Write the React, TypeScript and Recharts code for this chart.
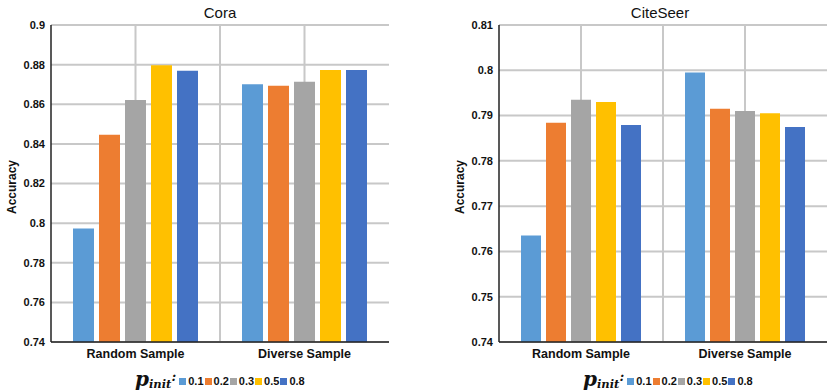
import React from "react";
import {
  BarChart,
  Bar,
  XAxis,
  YAxis,
  CartesianGrid,
} from "recharts";

const categories = ["Random Sample", "Diverse Sample"];
const pInitLabels = ["0.1", "0.2", "0.3", "0.5", "0.8"];
const seriesColors = ["#5B9BD5", "#ED7D31", "#A5A5A5", "#FFC000", "#4472C4"];

// Cora accuracy, one value per p_init
const coraRandom = [0.7973, 0.8446, 0.8622, 0.8797, 0.8769];
const coraDiverse = [0.8701, 0.8693, 0.8713, 0.8773, 0.8773];
const coraTicks = [0.74, 0.76, 0.78, 0.8, 0.82, 0.84, 0.86, 0.88, 0.9];

// CiteSeer accuracy
const citeseerRandom = [0.7635, 0.7884, 0.7935, 0.7930, 0.7879];
const citeseerDiverse = [0.7995, 0.7915, 0.7910, 0.7905, 0.7875];
const citeseerTicks = [0.74, 0.75, 0.76, 0.77, 0.78, 0.79, 0.8, 0.81];

const FONT = "'Liberation Sans', Arial, Helvetica, sans-serif";

const buildRows = (groups: number[][]) =>
  categories.map((category, i) => {
    const row: Record<string, string | number> = { category };
    pInitLabels.forEach((p, j) => {
      row[p] = groups[i][j];
    });
    return row;
  });

const coraData = buildRows([coraRandom, coraDiverse]);
const citeseerData = buildRows([citeseerRandom, citeseerDiverse]);

const fmt = (v: number) => String(parseFloat(v.toFixed(2)));

interface PanelProps {
  title: string;
  data: Record<string, string | number>[];
  ticks: number[];
  left: number;
  width: number;
  yAxisWidth: number;
  marginRight: number;
  barSize: number;
  titleX: number;
  labelX: number;
  legendX: number;
}

const Panel: React.FC<PanelProps> = ({
  title,
  data,
  ticks,
  left,
  width,
  yAxisWidth,
  marginRight,
  barSize,
  titleX,
  labelX,
  legendX,
}) => {
  const domain = [ticks[0], ticks[ticks.length - 1]];
  return (
    <>
      <div
        style={{
          position: "absolute",
          left: titleX,
          top: 4,
          transform: "translateX(-50%)",
          fontFamily: FONT,
          fontSize: 15,
          lineHeight: "17px",
          color: "#111",
          whiteSpace: "nowrap",
        }}
      >
        {title}
      </div>
      <div
        style={{
          position: "absolute",
          left: labelX,
          top: 187,
          transform: "translate(-50%, -50%) rotate(-90deg)",
          fontFamily: FONT,
          fontWeight: "bold",
          fontSize: 12,
          color: "#111",
          whiteSpace: "nowrap",
        }}
      >
        Accuracy
      </div>
      <div style={{ position: "absolute", left, top: 0 }}>
        <BarChart
          width={width}
          height={391}
          data={data}
          margin={{ top: 25, right: marginRight, left: 0, bottom: 0 }}
          barSize={barSize}
          barGap={5}
        >
          <CartesianGrid
            stroke="#c8c8c8"
            strokeWidth={2}
            verticalCoordinatesGenerator={({ offset }: any) => [
              offset.left + offset.width / 4,
              offset.left + offset.width / 2,
              offset.left + (offset.width * 3) / 4,
            ]}
          />
          <XAxis
            dataKey="category"
            height={49}
            axisLine={{ stroke: "#222", strokeWidth: 1.5 }}
            tickLine={false}
            tickSize={4}
            tickMargin={3}
            tick={{ fontFamily: FONT, fontSize: 12.5, fontWeight: "bold", fill: "#111" }}
          />
          <XAxis
            xAxisId="top"
            dataKey="category"
            orientation="top"
            height={0}
            tick={false}
            tickLine={false}
            axisLine={{ stroke: "#7a7a7a", strokeWidth: 2 }}
          />
          <YAxis
            width={yAxisWidth}
            domain={domain}
            ticks={ticks}
            interval={0}
            tickFormatter={fmt}
            axisLine={{ stroke: "#222", strokeWidth: 1.5 }}
            tickLine={false}
            tickSize={4}
            tickMargin={2}
            tick={{ fontFamily: FONT, fontSize: 11, fontWeight: "bold", fill: "#111" }}
          />
          <YAxis
            yAxisId="right"
            orientation="right"
            width={0}
            domain={domain}
            tick={false}
            tickLine={false}
            axisLine={{ stroke: "#7a7a7a", strokeWidth: 2 }}
          />
          {pInitLabels.map((p, i) => (
            <Bar
              key={p}
              dataKey={p}
              fill={seriesColors[i]}
              isAnimationActive={false}
            />
          ))}
        </BarChart>
      </div>
      <div
        style={{
          position: "absolute",
          left: legendX,
          top: 370,
          height: 22,
          display: "flex",
          alignItems: "center",
          whiteSpace: "nowrap",
        }}
      >
        <span
          style={{
            fontFamily: "'DejaVu Serif', serif",
            fontStyle: "italic",
            fontWeight: "bold",
            fontSize: 20,
            lineHeight: "18px",
            color: "#111",
            marginRight: 3,
            position: "relative",
            top: -1,
          }}
        >
          p
          <span style={{ fontSize: 11.5, position: "relative", top: 2 }}>init</span>
          <span style={{ fontSize: 13, position: "relative", top: -5 }}>:</span>
        </span>
        {pInitLabels.map((p, i) => (
          <span
            key={p}
            style={{ display: "flex", alignItems: "center", marginRight: 1 }}
          >
            <span
              style={{
                display: "inline-block",
                width: 7,
                height: 7,
                background: seriesColors[i],
                marginRight: 2,
              }}
            />
            <span
              style={{
                fontFamily: FONT,
                fontWeight: "bold",
                fontSize: 11,
                lineHeight: "12px",
                color: "#111",
              }}
            >
              {p}
            </span>
          </span>
        ))}
      </div>
    </>
  );
};

export default function App() {
  return (
    <div
      style={{
        position: "absolute",
        left: 0,
        top: 0,
        width: 829,
        height: 391,
        background: "#fff",
        overflow: "hidden",
      }}
    >
      <Panel
        title="Cora"
        data={coraData}
        ticks={coraTicks}
        left={0}
        width={400}
        yAxisWidth={51}
        marginRight={11}
        barSize={21}
        titleX={220}
        labelX={12}
        legendX={135}
      />
      <Panel
        title="CiteSeer"
        data={citeseerData}
        ticks={citeseerTicks}
        left={420}
        width={409}
        yAxisWidth={79}
        marginRight={2}
        barSize={20}
        titleX={660}
        labelX={460}
        legendX={583}
      />
    </div>
  );
}
